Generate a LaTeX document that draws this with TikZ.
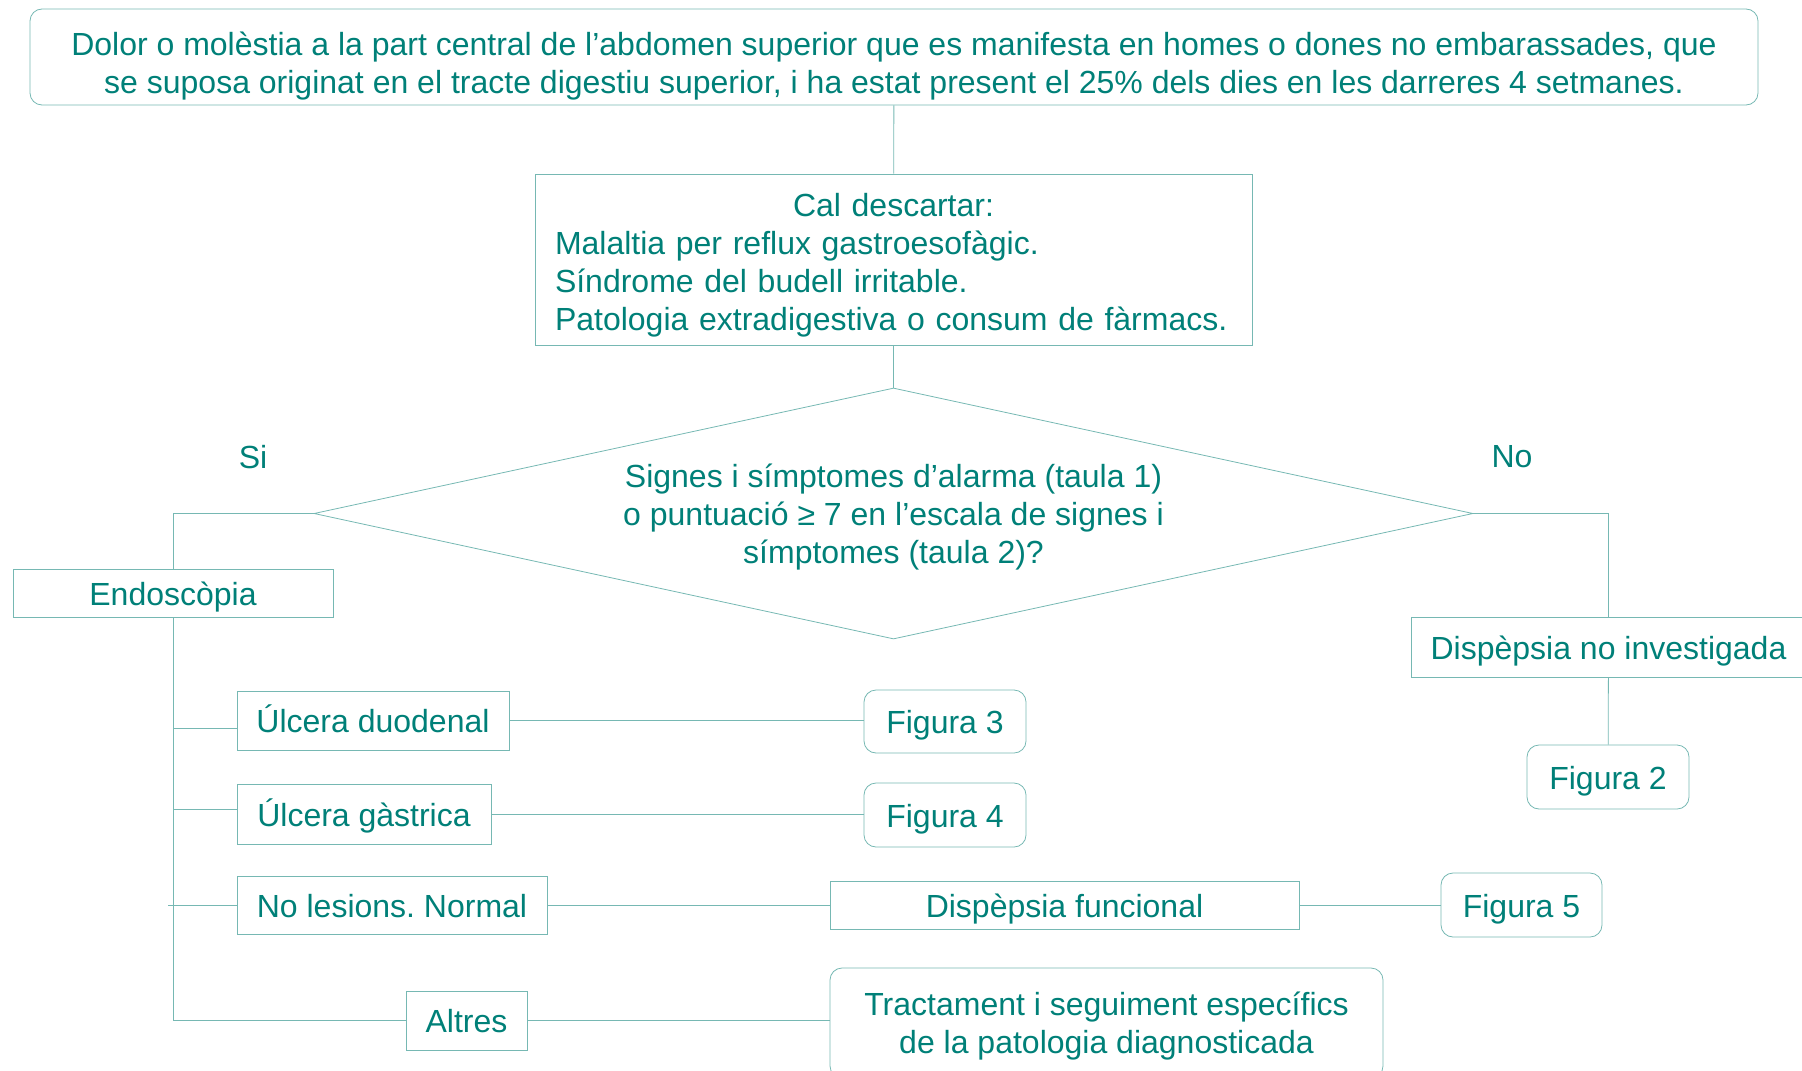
\documentclass[tikz,border=0pt]{standalone}
\usepackage{fontspec}
\setmainfont{Liberation Sans}
\usepackage{xcolor}
\usepackage{tikz}
\usetikzlibrary{positioning, shapes.geometric}
\definecolor{tealtext}{RGB}{0,128,120}
\definecolor{tealline}{RGB}{118,184,179}
\newcommand{\lift}[1]{\rule{0pt}{#1}}
\frenchspacing
\tikzset{
	line width = 1.25pt,
	font = \fontsize{16}{19}\selectfont,
	box/.style={
		draw=tealline,
		text=tealtext,
		rectangle,
		inner sep=0pt,
		align=center
	},
	round box/.style={
		box,
		rounded corners=6pt
	},
	one line/.style={
		text height=15.5pt,
		text depth=3.4pt
	},
	question/.style={
		draw=tealline,
		text=tealtext,
		diamond,
		shape aspect=4.6,
		inner sep=0pt,
		align=center
	},
	answer/.style={
		text=tealtext
	},
	link/.style={
		draw=tealline
	}
}

\begin{document}
\begin{tikzpicture}[x=.5pt, y=-.5pt]
		\clip (0,0) rectangle (1802,1070);
		\node[round box, minimum width=864pt, minimum height=48pt] at (894,57) (pain) {\lift{20.5pt}Dolor o molèstia a la part central de l’abdomen superior que es manifesta en homes o dones no embarassades, que\\se suposa originat en el tracte digestiu superior, i ha estat present el 25\% dels dies en les darreres 4 setmanes.};
		\node[box, align=left, text width=338.5pt, inner xsep=10pt, minimum height=85.5pt] at (893.5,259.5) (exclude) {\makebox[\hsize]{\lift{17.5pt}Cal descartar:}\\Malaltia per reflux gastroesofàgic.\\Síndrome del budell irritable.\\Patologia extradigestiva o consum de fàrmacs.};
		\node[question, minimum width=579.5pt, minimum height=125.5pt] at (893.5,513.5) (alarm) {\lift{15pt}Signes i símptomes d’alarma (taula 1)\\o puntuació ≥ 7 en l’escala de signes i\\símptomes (taula 2)?};
		\node[answer] at (253,457) (yes) {Si};
		\node[answer] at (1512,457) (no) {No};
		% branch Si
		\node[box, one line, minimum width=160pt, minimum height=24pt] at (173,593) (endo) {Endoscòpia};
		\node[box, one line, minimum width=136pt, minimum height=29.5pt] at (373,720.5) (duod) {Úlcera duodenal};
		\node[box, one line, minimum width=127pt, minimum height=30pt] at (364,814) (gastric) {Úlcera gàstrica};
		\node[box, one line, minimum width=155pt, minimum height=29pt] at (392,905) (normal) {No lesions. Normal};
		\node[box, one line, minimum width=60.5pt, minimum height=29.5pt] at (466.5,1020.5) (others) {Altres};
		\node[round box, one line, minimum width=81pt, minimum height=31.5pt] at (945,721.5) (fig3) {Figura 3};
		\node[round box, one line, minimum width=81pt, minimum height=32pt] at (945,815) (fig4) {Figura 4};
		\node[box, one line, minimum width=234.5pt, minimum height=24pt] at (1064.5,905) (funct) {Dispèpsia funcional};
		\node[round box, one line, minimum width=80.5pt, minimum height=32pt] at (1521.5,905) (fig5) {Figura 5};
		\node[round box, minimum width=276.5pt, minimum height=55pt] at (1106.5,1023) (treat) {\lift{14.5pt}Tractament i seguiment específics\\de la patologia diagnosticada};
		% branch No
		\node[box, one line, minimum width=197.5pt, minimum height=30pt] at (1608.5,647) (undiag) {Dispèpsia no investigada};
		\node[round box, one line, minimum width=81pt, minimum height=32pt] at (1608,777) (fig2) {Figura 2};

		\draw[link] (pain) -- (exclude);
		\draw[link] (exclude) -- (alarm);
		\draw[link] (alarm.west) -| (endo);
		\draw[link] (alarm.east) -| (undiag);
		\draw[link] (undiag) -- (fig2);
		\draw[link] (endo) |- (others);
		\draw[link] ([yshift=-4pt]duod.west -| endo.south) -- ([yshift=-4pt]duod.west);
		\draw[link] ([yshift=2.5pt]gastric.west -| endo.south) -- ([yshift=2.5pt]gastric.west);
		\draw[link] ([xshift=-2.5pt]normal.west -| endo.south) -- (normal.west);
		\draw[link] (duod.east) -- (duod.east -| fig3.west);
		\draw[link] (gastric.east) -- (gastric.east -| fig4.west);
		\draw[link] (normal.east) -- (normal.east -| funct.west);
		\draw[link] (funct.east) -- (funct.east -| fig5.west);
		\draw[link] (others.east) -- (others.east -| treat.west);
	\end{tikzpicture}
\end{document}
